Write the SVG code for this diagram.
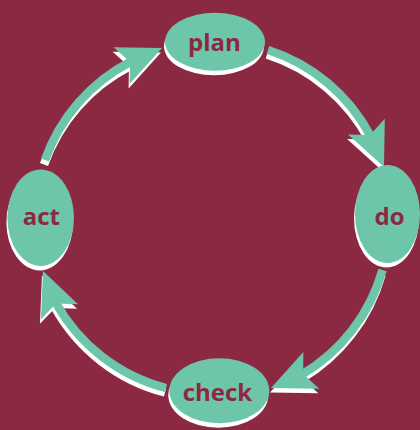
<svg xmlns="http://www.w3.org/2000/svg" xmlns:xlink="http://www.w3.org/1999/xlink" width="420" height="430" viewBox="0 0 420 430">
  <style>
    .bg { fill: #8B2943; }
    .node { fill: #6DC6A9; }
    .node-shadow { fill: #FFFFFF; }
    .label { font-family: "Open Sans", "Noto Sans", "DejaVu Sans", sans-serif; font-weight: 700; font-size: 24px; fill: #8B2943; text-anchor: middle; }
    .shaft { fill: none; stroke-width: 8.5; }
    .head { stroke: none; }
    .shadow { fill: #FFFFFF; stroke: #FFFFFF; }
    .ink { fill: #6DC6A9; stroke: #6DC6A9; }
  </style>
  <defs>
    <!-- arrowhead pointing along +x, tip at origin, concave back -->
    <path id="head" class="head" d="M0,0 L-44,-20 L-35,0 L-44,20 Z"/>
    <g id="arrow-plan-do">
      <path class="shaft" d="M268,50 A177,177 0 0 1 370.4,135.8"/>
      <use xlink:href="#head" transform="translate(384,167) rotate(66.5)"/>
    </g>
    <g id="arrow-do-check">
      <path class="shaft" d="M382.5,270 A177,177 0 0 1 302.2,374.4"/>
      <use xlink:href="#head" transform="translate(271,388) rotate(156.5)"/>
    </g>
    <g id="arrow-check-act">
      <path class="shaft" d="M166,388 A177,177 0 0 1 55.7,302.5"/>
      <use xlink:href="#head" transform="translate(43,271) rotate(248)"/>
    </g>
    <g id="arrow-act-plan">
      <path class="shaft" d="M45,160 A177,177 0 0 1 130.8,61.6"/>
      <use xlink:href="#head" transform="translate(162,48) rotate(336.5)"/>
    </g>
  </defs>

  <rect class="bg" x="0" y="0" width="420" height="430"/>

  <g id="connectors">
    <g class="shadow" transform="translate(-1,4.5)">
      <use xlink:href="#arrow-plan-do"/>
      <use xlink:href="#arrow-do-check"/>
      <use xlink:href="#arrow-check-act"/>
      <use xlink:href="#arrow-act-plan"/>
    </g>
    <g class="ink">
      <use xlink:href="#arrow-plan-do"/>
      <use xlink:href="#arrow-do-check"/>
      <use xlink:href="#arrow-check-act"/>
      <use xlink:href="#arrow-act-plan"/>
    </g>
  </g>

  <g id="plan">
    <ellipse class="node-shadow" cx="214" cy="46.3" rx="50" ry="29"/>
    <ellipse class="node" cx="215" cy="41.8" rx="50" ry="29"/>
    <text class="label" x="214.5" y="50.5">plan</text>
  </g>

  <g id="do">
    <ellipse class="node-shadow" cx="386.5" cy="218.5" rx="32.5" ry="49"/>
    <ellipse class="node" cx="387.5" cy="214" rx="32.5" ry="49"/>
    <text class="label" x="389.5" y="224.5">do</text>
  </g>

  <g id="check">
    <ellipse class="node-shadow" cx="218.3" cy="395.3" rx="50" ry="32.5"/>
    <ellipse class="node" cx="219.3" cy="390.8" rx="50" ry="32.5"/>
    <text class="label" x="217.5" y="400.5">check</text>
  </g>

  <g id="act">
    <ellipse class="node-shadow" cx="39.7" cy="222.2" rx="33.3" ry="48.3"/>
    <ellipse class="node" cx="40.7" cy="217.7" rx="33.3" ry="48.3"/>
    <text class="label" x="41.3" y="224.5">act</text>
  </g>
</svg>
